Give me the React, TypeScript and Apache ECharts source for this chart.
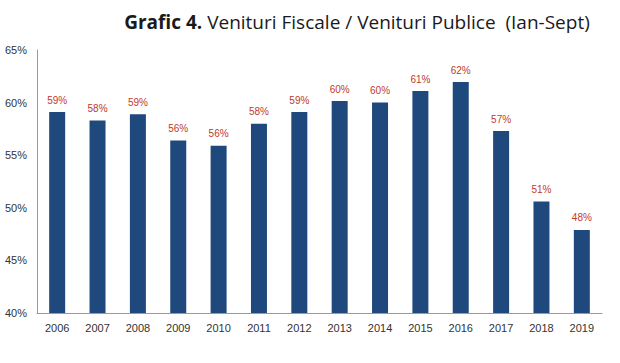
import React, { useEffect, useRef } from "react";
import * as echarts from "echarts";

const years = ["2006","2007","2008","2009","2010","2011","2012","2013","2014","2015","2016","2017","2018","2019"];
const values = [59.1, 58.3, 58.9, 56.4, 55.9, 58.0, 59.1, 60.15, 60.0, 61.1, 61.95, 57.3, 50.6, 47.9];

export default function App() {
  const ref = useRef<HTMLDivElement>(null);
  useEffect(() => {
    const chart = echarts.init(ref.current!, null, { renderer: "svg" });
    chart.setOption({
      animation: false,
      backgroundColor: "#ffffff",
      title: {
        text: "{b|Grafic 4.} Venituri Fiscale / Venituri Publice  (Ian-Sept)",
        left: 352,
        textAlign: "center",
        top: 7,
        textStyle: {
          rich: {
            b: { fontFamily: "Liberation Sans Narrow, Open Sans, sans-serif", fontWeight: "bold", fontSize: 19, color: "#1a1a1a" },
          },
          fontFamily: "Liberation Sans Narrow, Open Sans, sans-serif",
          fontWeight: "normal",
          fontSize: 19,
          color: "#1a1a1a",
        },
      },
      grid: { left: 37, right: 18, top: 50, bottom: 50 },
      xAxis: {
        type: "category",
        data: years,
        axisLine: { lineStyle: { color: "#999999" } },
        axisTick: { show: false },
        axisLabel: { color: "#333333", fontSize: 11, fontFamily: "Liberation Sans Narrow, sans-serif", margin: 9 },
      },
      yAxis: {
        type: "value",
        min: 40,
        max: 65,
        interval: 5,
        axisLine: { show: true, lineStyle: { color: "#999999" } },
        axisTick: { show: false },
        splitLine: { show: false },
        axisLabel: { color: "#333333", fontSize: 11, fontFamily: "Liberation Sans Narrow, sans-serif", margin: 10, formatter: (v: number) => v + "%" },
      },
      series: [
        {
          type: "bar",
          data: values,
          barWidth: 16,
          itemStyle: { color: "#1f497d" },
          label: {
            show: true,
            position: "top",
            distance: 7,
            color: "#c0392b",
            fontSize: 10,
            fontFamily: "Liberation Sans Narrow, sans-serif",
            formatter: (p: any) => Math.round(p.value) + "%",
          },
        },
      ],
    });
    return () => chart.dispose();
  }, []);
  return <div ref={ref} style={{ width: 620, height: 363, position: "absolute", left: 0, top: 0 }} />;
}
